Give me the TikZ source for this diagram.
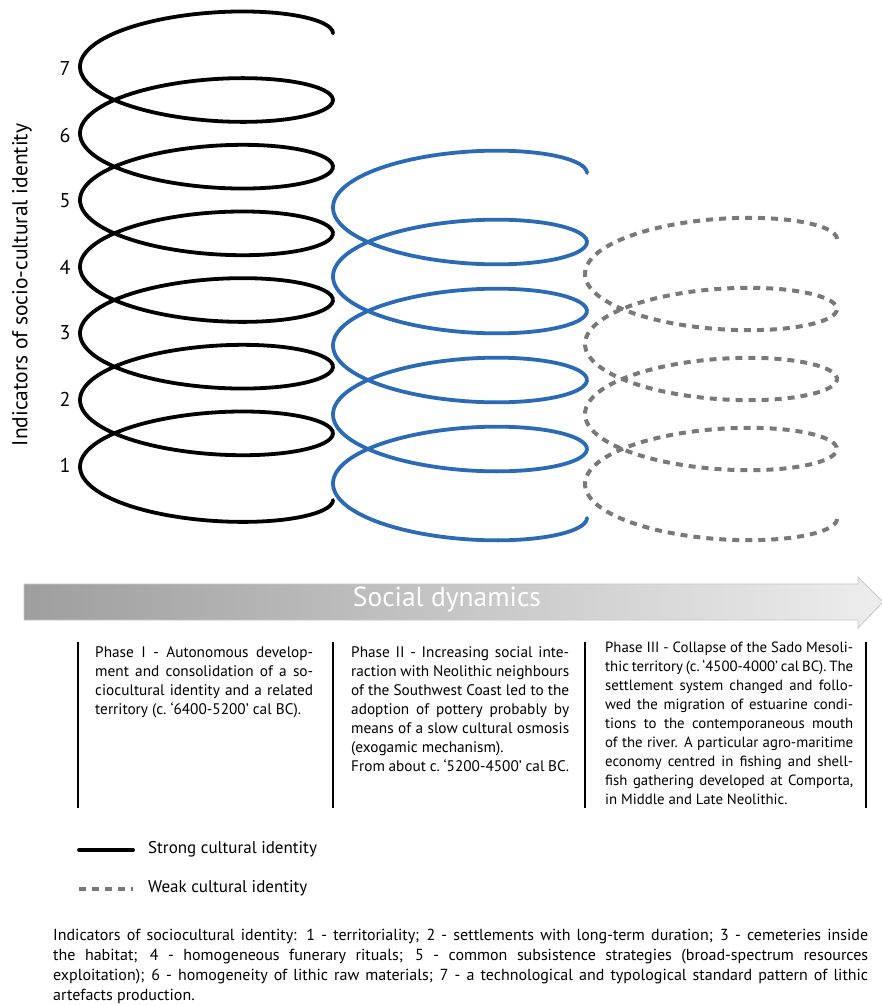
\documentclass[tikz,border=0pt]{standalone}
\usepackage{fontspec}
\setmainfont{PT Sans}
\definecolor{coilblue}{RGB}{43,106,181}
\definecolor{coilgray}{RGB}{122,120,120}
\tolerance=9999
\hyphenpenalty=10000

\begin{document}
\begin{tikzpicture}[x=1pt,y=-1pt,
        strong/.style={line width=3.8pt,line cap=round},
        bluecoil/.style={line width=3.8pt,color=coilblue,line cap=round},
        weak/.style={line width=4pt,color=coilgray,dash pattern=on 7pt off 6pt},
        num/.style={font=\fontsize{20}{24}\selectfont},
        phase/.style={anchor=north west,inner sep=0pt,align=justify,font=\fontsize{15.3}{19}\selectfont},
        bar/.style={line width=2pt},
        legend/.style={anchor=west,inner sep=0pt,font=\fontsize{17}{20}\selectfont}]
    \fill[white] (0,0) rectangle (882,1005);
    \useasboundingbox (0,0) rectangle (882,1005);
    \node[rotate=90,font=\fontsize{21.5}{25}\selectfont] (axis) at (22,285) {Indicators of socio-cultural identity};
    \node[num] (n7) at (65,68) {7};
    \node[num] (n6) at (65,135) {6};
    \node[num] (n5) at (65,201) {5};
    \node[num] (n4) at (65,267) {4};
    \node[num] (n3) at (65,333) {3};
    \node[num] (n2) at (65,399) {2};
    \node[num] (n1) at (65,465) {1};
    \draw[strong] plot[domain=-360:2160,samples=420,smooth] ({206.5+126.5*cos(\x)},{100+(\x/360)*66.67-37*sin(\x)});
    \draw[bluecoil] plot[domain=-360:1440,samples=300,smooth] ({460+127*cos(\x)},{242+(\x/360)*69-38*sin(\x)});
    \draw[weak] plot[domain=-360:1080,samples=240,smooth] ({711+126*cos(\x)},{309+(\x/360)*70-37*sin(\x)});
    \shade[left color=black!38,middle color=black!55,right color=black!7,draw=black!22,line width=0.8pt]
        (24,584) -- (858,584) -- (858,577) -- (883,602) -- (858,628) -- (858,620) -- (24,620) -- cycle;
    \node[text=white,font=\fontsize{27.5}{32}\selectfont] (dyn) at (447,600) {Social dynamics};
    \draw[bar] (78,642) -- (78,808);
    \draw[bar] (333,642) -- (333,808);
    \draw[bar] (585,642) -- (585,808);
    \draw[bar] (866,642) -- (866,808);
    \node[phase,text width=218pt] (ph1) at (95,646) {Phase I - Autonomous develop-\linebreak
        ment and consolidation of a so-\linebreak ciocultural identity and a related\linebreak
        territory (c.~‘6400-5200’ cal BC).};
    \node[phase,text width=218pt] (ph2) at (351,646) {Phase II - Increasing social inte-\linebreak
        raction with Neolithic neighbours\linebreak of the Southwest Coast led to the\linebreak
        adoption of pottery probably by\linebreak means of a slow cultural osmosis\linebreak
        (exogamic mechanism).\\ From about c.~‘5200-4500’ cal BC.};
    \node[phase,text width=248pt,font=\fontsize{14.8}{19}\selectfont] (ph3) at (605,642) {Phase III - Collapse of the Sado Mesoli-\linebreak
        thic territory (c.~‘4500-4000’ cal BC). The\linebreak settlement system changed and follo-\linebreak
        wed the migration of estuarine condi-\linebreak tions to the contemporaneous mouth\linebreak
        of the river. A particular agro-maritime\linebreak economy centred in fishing and shell-\linebreak
        fish gathering developed at Comporta,\linebreak in Middle and Late Neolithic.};
    \draw[strong] (79,850) -- (133,850);
    \node[legend] (lstrong) at (148,849) {Strong cultural identity};
    \draw[weak] (79,889) -- (133,889);
    \node[legend] (lweak) at (148,888) {Weak cultural identity};
    \node[anchor=north west,inner sep=0pt,text width=815pt,align=justify,font=\fontsize{16}{20}\selectfont] (notes) at (53,929)
        {Indicators of sociocultural identity: 1 - territoriality; 2 - settlements with long-term duration; 3 - cemeteries inside\linebreak
        the habitat; 4 - homogeneous funerary rituals; 5 - common subsistence strategies (broad-spectrum resources\linebreak
        exploitation); 6 - homogeneity of lithic raw materials; 7 - a technological and typological standard pattern of lithic\linebreak
        artefacts production.};
\end{tikzpicture}
\end{document}
